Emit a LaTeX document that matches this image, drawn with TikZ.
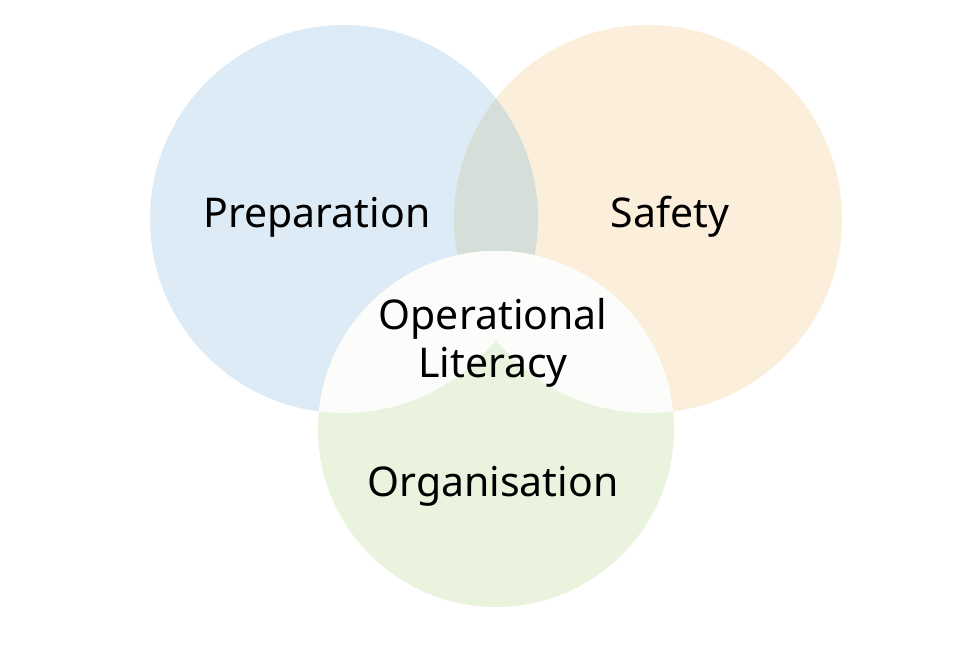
\documentclass[tikz,border=0pt]{standalone}
\usepackage{fontspec}
\setmainfont{Noto Sans}
\definecolor{cblue}{HTML}{DCEBF5}
\definecolor{corange}{HTML}{FBEEDB}
\definecolor{cgreen}{HTML}{E9F3DE}
\definecolor{cgrey}{HTML}{D6DED9}
\definecolor{cwhite}{HTML}{FCFCFA}
\begin{document}
\begin{tikzpicture}[x=1pt,y=1pt,lbl/.style={font=\fontsize{41}{48}\selectfont,align=center,text=black}]
\useasboundingbox[fill=white] (0,0) rectangle (980,649);
\coordinate (B) at (344,430);
\coordinate (O) at (648,430);
\coordinate (G) at (496,220);
\fill[cblue] (B) circle (194);
\fill[corange] (O) circle (194);
\begin{scope}\clip (B) circle (194); \fill[cgrey] (O) circle (194);\end{scope}
\fill[cgreen] (G) circle (178);
\begin{scope}\clip (G) circle (178);
\fill[cwhite] (B) circle (194); \fill[cwhite] (O) circle (194);\end{scope}
\node[lbl] (p) at (317,432) {Preparation};
\node[lbl] (s) at (670,432) {Safety};
\node[lbl] (l) at (493,306) {Operational\\Literacy};
\node[lbl] (g) at (493,163) {Organisation};
\end{tikzpicture}
\end{document}
